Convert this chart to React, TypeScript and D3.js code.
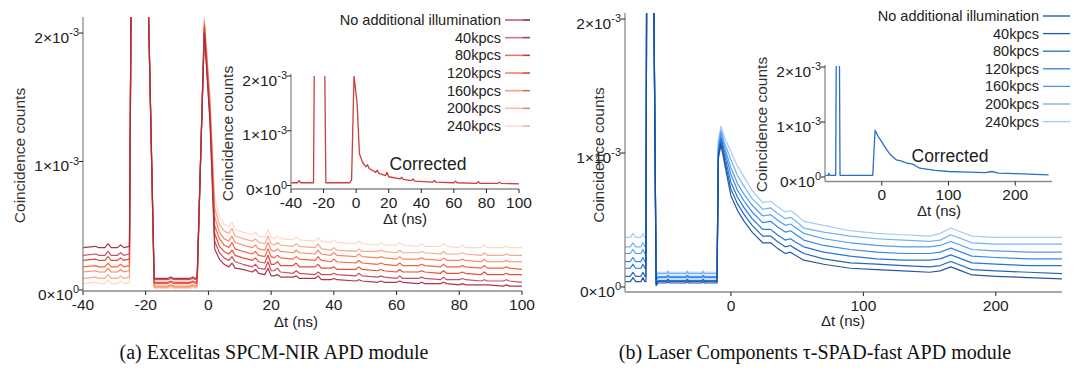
import React from "react";
import * as d3 from "d3";

const W = 1078;
const H = 368;
const FONT = "'Liberation Sans', Arial, Helvetica, sans-serif";
const SERIF = "'Liberation Serif', 'Times New Roman', Times, serif";

const seriesNames = [
  "No additional illumination",
  "40kpcs",
  "80kpcs",
  "120kpcs",
  "160kpcs",
  "200kpcs",
  "240kpcs",
];

// all counts below are in units of 1e-5

// (a) Excelitas SPCM-NIR, delay axis in ns
const tA = [
  -40, -36, -35, -33, -32, -31, -29, -28, -27, -25.2, -24.6, -19.4, -17.3, -13, -12, -11, -6, -5, -4, -3.6,
  -1.3, 0.5, 2, 3.5, 5, 6.5, 7.5, 8.5, 11,
  14, 15, 16, 18, 19, 20, 21, 22, 23,
  27, 28, 29, 34, 35, 36, 39, 40, 41,
  47, 48, 49, 54, 55, 56, 60, 61, 62,
  67, 68, 69, 74, 75, 76, 80, 81, 82,
  87, 88, 89, 94, 95, 96, 100,
];
const a0 = [33, 34, 33, 33, 36, 33, 33, 35, 33, 34, 250, 250, 9, 9, 10, 9, 9, 10, 9, 10,
  200, 130, 32, 24, 20, 18, 21, 17, 16, 14, 16, 13, 12, 17, 11, 11, 12, 10,
  10, 11, 9, 9, 11, 8, 8, 9, 8, 7, 8, 7, 6, 7, 6, 6, 7, 6,
  5, 6, 5, 5, 6, 5, 4, 5, 4, 4, 4, 4, 3, 4, 3, 3];
const a1 = [27, 28, 27, 27, 30, 27, 27, 29, 27, 28, 250, 250, 8, 8, 9, 8, 8, 9, 8, 9,
  202, 133, 38, 29, 25, 23, 26, 22, 20, 18, 20, 17, 16, 22, 15, 15, 17, 14,
  13, 15, 13, 12, 14, 12, 12, 13, 12, 11, 13, 11, 10, 11, 10, 9, 11, 9,
  9, 10, 9, 8, 10, 8, 8, 9, 8, 7, 8, 7, 7, 8, 7, 6];
const a2 = [23, 24, 23, 23, 26, 23, 23, 25, 23, 24, 250, 250, 6, 6, 7, 6, 6, 7, 6, 7,
  204, 137, 44, 34, 30, 28, 31, 27, 25, 23, 25, 22, 21, 27, 20, 20, 22, 19,
  19, 21, 18, 18, 20, 17, 17, 18, 16, 16, 18, 16, 15, 16, 15, 14, 16, 14,
  14, 15, 14, 13, 15, 13, 13, 14, 13, 12, 14, 12, 12, 13, 12, 12];
const a3 = [18, 19, 18, 18, 21, 18, 18, 20, 18, 19, 250, 250, 5, 5, 6, 5, 5, 6, 5, 6,
  206, 140, 50, 40, 35, 33, 37, 32, 30, 28, 30, 27, 26, 32, 26, 25, 27, 25,
  24, 26, 24, 23, 26, 23, 22, 24, 22, 21, 23, 21, 20, 21, 20, 19, 21, 19,
  19, 20, 19, 18, 20, 18, 18, 19, 18, 17, 19, 17, 17, 18, 17, 16];
const a4 = [14, 15, 14, 14, 17, 14, 14, 16, 14, 15, 250, 250, 3, 3, 4, 3, 3, 4, 3, 4,
  208, 144, 57, 45, 40, 38, 42, 37, 35, 33, 35, 32, 31, 37, 31, 30, 32, 30,
  29, 31, 29, 28, 31, 28, 27, 29, 27, 26, 28, 26, 25, 26, 25, 24, 26, 24,
  24, 25, 24, 23, 25, 23, 23, 24, 23, 22, 24, 22, 22, 23, 22, 22];
const a5 = [9, 10, 9, 9, 12, 9, 9, 11, 9, 10, 250, 250, 2, 2, 3, 2, 2, 3, 2, 3,
  210, 147, 64, 51, 46, 44, 48, 42, 40, 38, 40, 37, 36, 42, 36, 35, 37, 35,
  34, 36, 34, 33, 36, 32, 31, 33, 31, 30, 32, 30, 30, 31, 30, 29, 31, 29,
  29, 30, 29, 28, 30, 28, 28, 29, 28, 27, 29, 27, 27, 28, 27, 27];
const a6 = [5, 6, 5, 5, 8, 5, 5, 7, 5, 6, 250, 250, 1, 1, 2, 1, 1, 2, 1, 2,
  212, 150, 72, 57, 51, 49, 53, 47, 45, 43, 45, 42, 41, 47, 41, 40, 42, 40,
  39, 41, 39, 38, 41, 38, 37, 39, 37, 36, 38, 36, 35, 37, 35, 35, 37, 35,
  34, 36, 34, 34, 36, 34, 33, 35, 33, 33, 35, 33, 33, 34, 33, 33];

// (a) inset, corrected
const tAin = [-40, -36, -35, -34, -26.2, -25.6, -19.4, -18.6, -4, -2.8, -1.3, 0.6, 2, 4, 6, 7, 8,
  12, 13, 14, 18, 19, 20, 27, 28, 29, 34, 35, 36, 47, 48, 49, 60, 61, 62, 74, 75, 76, 87, 88, 89, 100];
const aIn = [5, 5, 9, 5, 5, 250, 250, 5, 5, 10, 200, 150, 58, 42, 34, 38, 31,
  24, 28, 22, 18, 24, 16, 12, 15, 11, 9, 12, 8, 6, 9, 6, 5, 8, 5, 4, 7, 4, 4, 6, 4, 3];

// (b) Laser Components tau-SPAD-fast
const tB = [-80, -76, -74, -72, -68, -66.5, -65, -64.2, -63.6, -58.5, -56.5, -55,
  -48.5, -47.5, -46.5, -34, -33, -32, -22, -21, -20, -10.5, -9.5, -7.5,
  -5, 0, 5, 10, 16, 24, 30, 35, 41, 45, 48, 55, 70, 90, 110, 130, 150, 158, 166, 174, 182, 200, 225, 250];
const b0 = [4, 4, 7, 4, 4, 7, 4, 4, 250, 250, 1, 3, 3, 4, 3, 3, 4, 3, 3, 4, 3, 3, 96, 106,
  93, 68, 57, 49, 41, 33, 33, 29, 25, 26, 24, 20, 17, 14, 13, 12, 11, 12, 15, 12, 9, 8, 7, 6];
const b1 = [8, 8, 11, 8, 8, 11, 8, 8, 250, 250, 2, 4, 4, 5, 4, 4, 5, 4, 4, 5, 4, 4, 98, 108,
  96, 73, 62, 54, 46, 38, 38, 34, 30, 31, 29, 25, 21, 18, 17, 16, 15, 16, 19, 16, 13, 12, 11, 10];
const b2 = [14, 14, 17, 14, 14, 17, 14, 14, 250, 250, 3, 5, 5, 6, 5, 5, 6, 5, 5, 6, 5, 5, 100, 110,
  99, 78, 67, 59, 51, 43, 43, 39, 35, 36, 34, 30, 26, 23, 21, 20, 20, 21, 24, 21, 18, 17, 16, 16];
const b3 = [19, 19, 22, 19, 19, 22, 19, 19, 250, 250, 5, 7, 7, 8, 7, 7, 8, 7, 7, 8, 7, 7, 102, 112,
  102, 84, 72, 64, 56, 48, 49, 45, 41, 42, 40, 35, 31, 28, 26, 25, 25, 26, 29, 26, 23, 22, 21, 21];
const b4 = [25, 25, 28, 25, 25, 28, 25, 25, 250, 250, 6, 8, 8, 9, 8, 8, 9, 8, 8, 9, 8, 8, 105, 115,
  105, 89, 77, 69, 61, 53, 54, 50, 46, 47, 45, 40, 36, 33, 31, 30, 30, 31, 34, 31, 28, 27, 26, 26];
const b5 = [30, 30, 33, 30, 30, 33, 30, 30, 250, 250, 8, 10, 10, 11, 10, 10, 11, 10, 10, 11, 10, 10, 107, 117,
  108, 95, 83, 75, 66, 58, 59, 55, 51, 52, 50, 44, 41, 38, 36, 35, 34, 35, 39, 36, 33, 32, 32, 32];
const b6 = [37, 37, 40, 37, 37, 40, 37, 37, 250, 250, 9, 11, 11, 12, 11, 11, 12, 11, 11, 12, 11, 11, 110, 120,
  112, 101, 90, 82, 72, 63, 64, 60, 56, 57, 55, 49, 46, 42, 40, 39, 38, 40, 44, 41, 38, 37, 37, 37];

// (b) inset, corrected
const tBin = [-85, -80, -79, -78, -69, -68, -63.5, -62.5, -40, -13.5, -10, -6, 0, 6, 12, 22, 30, 38, 45, 50, 57,
  80, 100, 130, 155, 165, 175, 200, 250];
const bIn = [3, 3, 7, 3, 3, 250, 250, 3, 3, 3, 85, 75, 64, 52, 42, 31, 29, 25, 24, 21, 16,
  12, 10, 9, 8, 10, 7, 6, 4];

const redColors = ["#a32d3f", "#c7445a", "#e0452f", "#ef5d38", "#f4835e", "#f8a486", "#fcd6c8"];
const blueColors = ["#1b4e9b", "#195eb5", "#1a6fd1", "#2a82e2", "#4b98ea", "#6dadf1", "#9ccaf6"];

const yTickLabels = [
  { v: 0, m: "0", e: "0" },
  { v: 1e-3, m: "1", e: "-3" },
  { v: 2e-3, m: "2", e: "-3" },
];

type Lin = d3.ScaleLinear<number, number>;

function Frame({ x, y, axisY, topY, xTicks }: { x: Lin; y: Lin; axisY: number; topY: number; xTicks: number[] }) {
  const [x0, x1] = x.range();
  return (
    <g fontFamily={FONT} fill="#222">
      <line x1={x0} x2={x0} y1={topY} y2={axisY} stroke="#8a8a8a" strokeWidth={1.3} />
      <line x1={x0} x2={x1} y1={axisY} y2={axisY} stroke="#8a8a8a" strokeWidth={1.3} />
      {yTickLabels.map((t) => (
        <g key={t.v}>
          <line x1={x0 - 4} x2={x0} y1={y(t.v)} y2={y(t.v)} stroke="#222" />
          <text x={x0 - 4} y={y(t.v) + 9.5} textAnchor="end" fontSize={15.5}>
            {t.m}×10
            <tspan dy={-6.5} fontSize={11}>{t.e}</tspan>
          </text>
        </g>
      ))}
      {xTicks.map((v) => (
        <g key={v}>
          <line x1={x(v)} x2={x(v)} y1={axisY} y2={axisY + 4} stroke="#222" />
          <text x={x(v)} y={axisY + 18.5} textAnchor="middle" fontSize={15.5}>{String(v)}</text>
        </g>
      ))}
    </g>
  );
}

function Curves(props: {
  id: string; x: Lin; y: Lin; axisY: number; topY: number; t: number[];
  series: number[][]; colors: string[]; width: number; opacity: number;
}) {
  const { id, x, y, axisY, topY, t, series, colors, width, opacity } = props;
  const [x0, x1] = x.range();
  const line = d3.line<number>().x((_, i) => x(t[i])).y((v) => y(v * 1e-5));
  // lightest first, darkest on top
  const order = series.map((s, i) => i).reverse();
  return (
    <g>
      <defs>
        <clipPath id={id}>
          <rect x={x0} y={topY} width={x1 - x0} height={axisY - topY} />
        </clipPath>
      </defs>
      <g clipPath={`url(#${id})`} fill="none">
        {order.map((i) => (
          <path key={i} d={line(series[i]) || ""} stroke={colors[i]} strokeWidth={width}
            strokeOpacity={opacity} strokeLinejoin="round" />
        ))}
      </g>
    </g>
  );
}

function Legend({ colors, textX, lx1, lx2, y0, dy, capped }: {
  colors: string[]; textX: number; lx1: number; lx2: number; y0: number; dy: number; capped: boolean;
}) {
  return (
    <g fontFamily={FONT} fontSize={14.5} fill="#222">
      {seriesNames.map((n, i) => {
        const yy = y0 + i * dy;
        return (
          <g key={n}>
            <text x={textX} y={yy + 5} textAnchor="end">{n}</text>
            {capped ? (
              <>
                <line x1={lx1} x2={lx2 - 7} y1={yy} y2={yy} stroke={colors[i]} strokeWidth={1.6} strokeOpacity={0.75} />
                <line x1={lx2 - 7} x2={lx2} y1={yy} y2={yy} stroke={d3.color(colors[i])!.darker(0.4).toString()} strokeWidth={1.6} />
              </>
            ) : (
              <line x1={lx1} x2={lx2} y1={yy} y2={yy} stroke={colors[i]} strokeWidth={1.3} />
            )}
          </g>
        );
      })}
    </g>
  );
}

function YLabel({ x, y, size }: { x: number; y: number; size: number }) {
  return (
    <text transform={`translate(${x},${y}) rotate(-90)`} textAnchor="middle" fontFamily={FONT}
      fontSize={size} fill="#333">Coincidence counts</text>
  );
}

function TextAt({ x, y, size, children, family = FONT, fill = "#222" }: any) {
  return <text x={x} y={y} textAnchor="middle" fontFamily={family} fontSize={size} fill={fill}>{children}</text>;
}

export default function App() {
  // panel (a)
  const xA = d3.scaleLinear().domain([-40, 100]).range([83, 522]);
  const yA = d3.scaleLinear().domain([0, 2e-3]).range([290, 33]);
  const xAi = d3.scaleLinear().domain([-40, 100]).range([291, 519]);
  const yAi = d3.scaleLinear().domain([0, 2e-3]).range([185.5, 76]);
  // panel (b)
  const xB = d3.scaleLinear().domain([-80, 250]).range([625, 1062]);
  const yB = d3.scaleLinear().domain([0, 2e-3]).range([287, 19]);
  const xBi = d3.scaleLinear().domain([-85, 255]).range([825, 1052]);
  const yBi = d3.scaleLinear().domain([0, 2e-3]).range([177, 67]);

  return (
    <svg width={W} height={H} viewBox={`0 0 ${W} ${H}`}
      style={{ position: "absolute", left: 0, top: 0, background: "#fff" }}>
      <rect width={W} height={H} fill="#fff" />

      {/* (a) main */}
      <Curves id="clipA" x={xA} y={yA} axisY={291} topY={17} t={tA}
        series={[a0, a1, a2, a3, a4, a5, a6]} colors={redColors} width={1.2} opacity={0.95} />
      <Frame x={xA} y={yA} axisY={291} topY={17} xTicks={[-40, -20, 0, 20, 40, 60, 80, 100]} />
      <YLabel x={25} y={155.5} size={15.5} />
      <TextAt x={296} y={327} size={15}>Δt (ns)</TextAt>
      <Legend colors={redColors} textX={501} lx1={505} lx2={530} y0={20} dy={17.67} capped={true} />

      {/* (a) inset */}
      <Curves id="clipAi" x={xAi} y={yAi} axisY={189} topY={76} t={tAin}
        series={[aIn]} colors={["#c9403f"]} width={1.3} opacity={1} />
      <Frame x={xAi} y={yAi} axisY={189} topY={74} xTicks={[-40, -20, 0, 20, 40, 60, 80, 100]} />
      <YLabel x={233} y={133.5} size={15.5} />
      <TextAt x={405} y={223.5} size={15}>Δt (ns)</TextAt>
      <TextAt x={428} y={170} size={17.5}>Corrected</TextAt>

      {/* (b) main */}
      <Curves id="clipB" x={xB} y={yB} axisY={292} topY={13} t={tB}
        series={[b0, b1, b2, b3, b4, b5, b6]} colors={blueColors} width={1.2} opacity={0.95} />
      <Frame x={xB} y={yB} axisY={292} topY={13} xTicks={[0, 100, 200]} />
      <YLabel x={604} y={155} size={15.5} />
      <TextAt x={843} y={326} size={15}>Δt (ns)</TextAt>
      <Legend colors={blueColors} textX={1039} lx1={1043} lx2={1070} y0={16} dy={17.6} capped={false} />

      {/* (b) inset */}
      <Curves id="clipBi" x={xBi} y={yBi} axisY={181.5} topY={66} t={tBin}
        series={[bIn]} colors={["#2a6ec8"]} width={1.3} opacity={1} />
      <Frame x={xBi} y={yBi} axisY={181.5} topY={65} xTicks={[0, 100, 200]} />
      <YLabel x={767} y={124.5} size={15.5} />
      <TextAt x={939} y={215.5} size={15}>Δt (ns)</TextAt>
      <TextAt x={950} y={162} size={17.5}>Corrected</TextAt>

      {/* captions */}
      <TextAt x={274} y={359} size={20} family={SERIF} fill="#111">(a) Excelitas SPCM-NIR APD module</TextAt>
      <TextAt x={815} y={359} size={20} family={SERIF} fill="#111">(b) Laser Components τ-SPAD-fast APD module</TextAt>
    </svg>
  );
}
